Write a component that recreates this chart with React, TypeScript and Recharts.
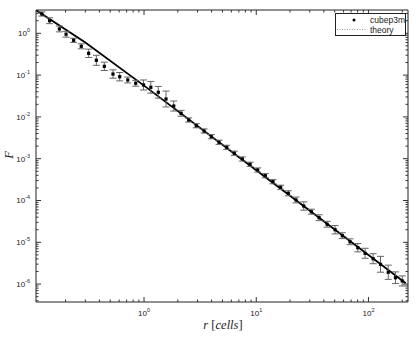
import React from 'react';
import { ComposedChart, Line, Scatter, ErrorBar, XAxis, YAxis, Legend } from 'recharts';

// measured points (cubep3m), r in cells
const radius = [
  0.123, 0.144, 0.176, 0.202, 0.236, 0.276, 0.321, 0.376, 0.443, 0.529, 0.607, 0.716,
  0.843, 0.99, 1.15, 1.34, 1.57, 1.84, 2.14, 2.5, 2.92, 3.43, 3.98, 4.66,
  5.46, 6.38, 7.52, 8.81, 10.3, 12.05, 14.1, 16.5, 19.3, 22.6, 26.5, 31.0,
  36.3, 42.8, 50.4, 58.5, 68.5, 80.3, 93.3, 110, 128, 150, 174, 200,
];
const fValues = [
  2.9, 2.0, 1.27, 0.95, 0.68, 0.489, 0.332, 0.226, 0.162, 0.106, 0.0916, 0.0764,
  0.0637, 0.058, 0.0511, 0.0388, 0.0268, 0.0182, 0.0122, 0.00843, 0.00616, 0.0046, 0.00336, 0.00247,
  0.00187, 0.00135, 0.000984, 0.000735, 0.000537, 0.000392, 0.000282, 0.000207, 0.000149, 0.000103, 7.38e-5, 5.4e-5,
  3.88e-5, 2.7e-5, 2.0e-5, 1.44e-5, 1.03e-5, 7.43e-6, 5.46e-6, 4.05e-6, 2.98e-6, 1.92e-6, 1.42e-6, 1.19e-6,
];
// error bar half-size, in decades
const errDex = [
  0.05, 0.07, 0.07, 0.07, 0.05, 0.06, 0.1, 0.12, 0.1, 0.1, 0.1, 0.07,
  0.07, 0.12, 0.14, 0.14, 0.19, 0.12, 0.07, 0.05, 0.05, 0.05, 0.05, 0.05,
  0.05, 0.05, 0.05, 0.05, 0.05, 0.05, 0.05, 0.05, 0.06, 0.07, 0.1, 0.06,
  0.07, 0.07, 0.1, 0.07, 0.07, 0.1, 0.12, 0.12, 0.19, 0.17, 0.14, 0.12,
];

// theory curve
const theoryR = [0.109, 0.3, 1, 10, 100, 215];
const theoryF = [3.6, 0.6, 0.056, 5.3e-4, 4.97e-6, 1.05e-6];

const xMajor = [0.1, 1, 10, 100];
const yMajor = [1e-7, 1e-6, 1e-5, 1e-4, 1e-3, 1e-2, 1e-1, 1];
const minorSteps = [1, 2, 3, 4, 5, 6, 7, 8, 9];

const xDomain = [0.109, 225];
const yDomain = [3.73e-7, 3.61];

const within = (d: number[]) => (v: number) => v >= d[0] && v <= d[1];
const xTicks = xMajor.flatMap((m) => minorSteps.map((s) => +(m * s).toPrecision(3))).filter(within(xDomain));
const yTicks = yMajor.flatMap((m) => minorSteps.map((s) => +(m * s).toPrecision(3))).filter(within(yDomain));

const points = radius.map((r, i) => {
  const f = fValues[i];
  return { r, F: f, err: [f - f * Math.pow(10, -errDex[i]), f * Math.pow(10, errDex[i]) - f] };
});
const theory = theoryR.map((r, i) => ({ r, F: theoryF[i] }));

const tickFont = '"Liberation Sans", Arial, sans-serif';

const makeTick = (side: 'bottom' | 'top' | 'left' | 'right') => (props: any) => {
  const { x, y, payload } = props;
  const v = payload.value;
  const e = Math.log10(v);
  const major = Math.abs(e - Math.round(e)) < 1e-6;
  const len = major ? 5 : 2.5;
  let line;
  if (side === 'bottom') line = <line x1={x} y1={y} x2={x} y2={y - len} stroke="#333" />;
  else if (side === 'top') line = <line x1={x} y1={y} x2={x} y2={y + len} stroke="#333" />;
  else if (side === 'left') line = <line x1={x} y1={y} x2={x + len} y2={y} stroke="#333" />;
  else line = <line x1={x} y1={y} x2={x - len} y2={y} stroke="#333" />;
  let label = null;
  if (major && side === 'bottom') {
    label = (
      <text x={x} y={y + 14} textAnchor="middle" fontSize={8} fontFamily={tickFont} fill="#222">
        10<tspan dy={-4} fontSize={5.5}>{Math.round(e)}</tspan>
      </text>
    );
  }
  if (major && side === 'left') {
    label = (
      <text x={x - 6} y={y + 3} textAnchor="end" fontSize={8} fontFamily={tickFont} fill="#222">
        10<tspan dy={-4} fontSize={5.5}>{Math.round(e)}</tspan>
      </text>
    );
  }
  return (
    <g>
      {line}
      {label}
    </g>
  );
};

const Dot = (props: any) => <rect x={props.cx - 1.6} y={props.cy - 1.6} width={3.2} height={3.2} fill="#000" />;

const LegendBox = () => (
  <div style={{ width: 71, height: 23, border: '1px solid #222', background: '#fff', boxSizing: 'border-box', overflow: 'hidden' }}>
    <svg width={69} height={21} style={{ display: 'block' }}>
      <circle cx={18} cy={6} r={1.5} fill="#000" />
      <text x={34} y={9} fontSize={8.5} fontFamily={tickFont} fill="#222">cubep3m</text>
      <line x1={1} y1={15.5} x2={31} y2={15.5} stroke="#999" strokeDasharray="1 1.5" />
      <text x={34} y={18.5} fontSize={8.5} fontFamily={tickFont} fill="#222">theory</text>
    </svg>
  </div>
);

export default function App() {
  return (
    <div style={{ position: 'absolute', left: 0, top: 0, width: 416, height: 339, background: '#fff' }}>
      <ComposedChart width={416} height={339} margin={{ top: 9, right: 7, bottom: 7, left: 0 }}>
        <XAxis
          xAxisId="b"
          dataKey="r"
          type="number"
          scale="log"
          domain={xDomain}
          allowDataOverflow
          ticks={xTicks}
          interval={0}
          tickSize={0}
          tickMargin={0}
          tick={makeTick('bottom')}
          height={30}
          stroke="#222"
          label={{
            content: () => (
              <text x={223} y={329} textAnchor="middle" fontSize={12.5} fontFamily='"Liberation Serif", serif' fill="#222">
                <tspan fontStyle="italic">r</tspan>
                <tspan> [</tspan>
                <tspan fontStyle="italic">cells</tspan>
                <tspan>]</tspan>
              </text>
            ),
          }}
        />
        <XAxis
          xAxisId="t"
          orientation="top"
          dataKey="r"
          type="number"
          scale="log"
          domain={xDomain}
          allowDataOverflow
          ticks={xTicks}
          interval={0}
          tickSize={0}
          tickMargin={0}
          tick={makeTick('top')}
          height={1}
          stroke="#222"
        />
        <YAxis
          yAxisId="l"
          type="number"
          scale="log"
          domain={yDomain}
          allowDataOverflow
          ticks={yTicks}
          interval={0}
          tickSize={0}
          tickMargin={0}
          tick={makeTick('left')}
          width={36}
          stroke="#222"
          label={{
            content: () => (
              <text x={13} y={155} transform="rotate(-90 13 155)" textAnchor="middle" fontSize={12.5} fontStyle="italic" fontFamily='"Liberation Serif", serif' fill="#222">
                F
              </text>
            ),
          }}
        />
        <YAxis
          yAxisId="rt"
          orientation="right"
          type="number"
          scale="log"
          domain={yDomain}
          allowDataOverflow
          ticks={yTicks}
          interval={0}
          tickSize={0}
          tickMargin={0}
          tick={makeTick('right')}
          width={1}
          stroke="#222"
        />
        <Legend
          layout="horizontal"
          verticalAlign="middle"
          align="center"
          content={() => <LegendBox />}
          wrapperStyle={{ left: 335, top: 13, width: 71, height: 23 }}
        />
        <Line
          xAxisId="b"
          yAxisId="l"
          data={theory}
          dataKey="F"
          type="linear"
          stroke="#000"
          strokeWidth={1.8}
          dot={false}
          isAnimationActive={false}
        />
        <Scatter xAxisId="b" yAxisId="l" data={points} dataKey="F" shape={Dot} isAnimationActive={false}>
          <ErrorBar dataKey="err" direction="y" width={3.5} stroke="#666" strokeWidth={1} isAnimationActive={false} />
        </Scatter>
      </ComposedChart>
    </div>
  );
}
